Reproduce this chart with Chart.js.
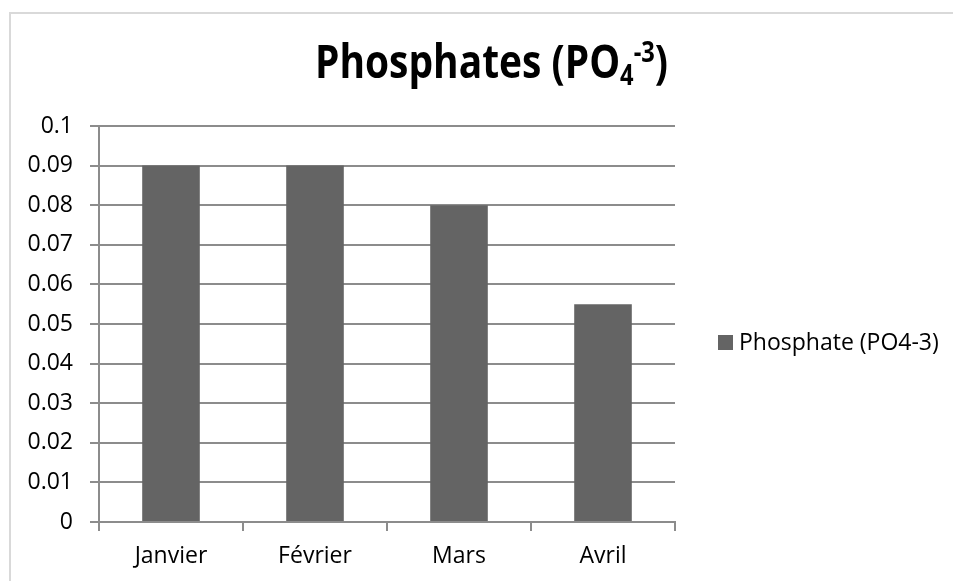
<!DOCTYPE html>
<html>
<head>
<meta charset="utf-8">
<script src="https://cdn.jsdelivr.net/npm/chart.js@4"></script>
<style>
  body { margin: 0; background: #fff; }
  #wrap { position: relative; width: 953px; height: 581px; overflow: hidden; }
  #frame { position: absolute; left: 9px; top: 12px; width: 1000px; height: 620px; border: 2px solid #d9d9d9; box-sizing: border-box; }
  canvas { position: absolute; left: 0; top: 0; }
</style>
</head>
<body>
<div id="wrap">
  <div id="frame"></div>
  <canvas id="phosphate-chart" width="953" height="581"></canvas>
</div>
<script>
// Values
const categories = ['Janvier', 'Février', 'Mars', 'Avril'];
const phosphateValues = [0.09, 0.09, 0.08, 0.055];
const yTickLabels = ['0', '0.01', '0.02', '0.03', '0.04', '0.05', '0.06', '0.07', '0.08', '0.09', '0.1'];
const seriesLabel = 'Phosphate (PO4-3)';

const barColor = '#646464';
const lineColor = '#8c8c8c';
const fontFamily = '"Open Sans", "Noto Sans", sans-serif';

// Title with subscript 4 and superscript -3
const titlePlugin = {
    id: 'chemTitle',
    afterDraw(chart) {
        const ctx = chart.ctx;
        const parts = [
            { text: 'Phosphates (PO', size: 46, dy: 0 },
            { text: '4', size: 28, dy: 7 },
            { text: '-3', size: 28, dy: -16 },
            { text: ')', size: 46, dy: 0 }
        ];
        ctx.save();
        let total = 0;
        const widths = parts.map(p => {
            ctx.font = 'bold ' + p.size + 'px ' + fontFamily;
            const w = ctx.measureText(p.text).width;
            total += w;
            return w;
        });
        const left = 315, right = 668;
        ctx.translate(left, 78);
        ctx.scale((right - left) / total, 1);
        ctx.fillStyle = '#000';
        ctx.textBaseline = 'alphabetic';
        ctx.textAlign = 'left';
        let x = 0;
        parts.forEach((p, i) => {
            ctx.font = 'bold ' + p.size + 'px ' + fontFamily;
            ctx.fillText(p.text, x, p.dy);
            x += widths[i];
        });
        ctx.restore();
    }
};

// Legend on the right
const legendPlugin = {
    id: 'sideLegend',
    afterDraw(chart) {
        const ctx = chart.ctx;
        ctx.save();
        ctx.fillStyle = barColor;
        ctx.fillRect(718, 335, 15, 15);
        ctx.fillStyle = '#000';
        ctx.font = '23px ' + fontFamily;
        ctx.textBaseline = 'middle';
        ctx.textAlign = 'left';
        ctx.fillText(chart.data.datasets[0].label, 739, 343);
        ctx.restore();
    }
};

const canvas = document.getElementById('phosphate-chart');

const chart = new Chart(canvas, {
    type: 'bar',
    data: {
        labels: categories,
        datasets: [{
            label: seriesLabel,
            data: phosphateValues,
            backgroundColor: barColor,
            borderWidth: 0,
            barPercentage: 0.4,
            categoryPercentage: 1.0
        }]
    },
    options: {
        responsive: false,
        animation: false,
        layout: {
            padding: { left: 0, top: 126, right: 278, bottom: 0 }
        },
        plugins: {
            legend: { display: false },
            title: { display: false },
            tooltip: { enabled: false }
        },
        scales: {
            x: {
                afterFit(scale) { scale.height = 59; },
                grid: {
                    offset: true,
                    drawOnChartArea: false,
                    drawTicks: true,
                    tickLength: 9,
                    color: lineColor,
                    lineWidth: 2
                },
                border: { color: lineColor, width: 2 },
                ticks: {
                    color: '#000',
                    font: { family: fontFamily, size: 23 },
                    padding: 12
                }
            },
            y: {
                min: 0,
                max: 0.1,
                afterFit(scale) { scale.width = 99; },
                afterBuildTicks(scale) {
                    scale.ticks = yTickLabels.map((t, i) => ({ value: i * 0.01 }));
                },
                grid: {
                    drawTicks: true,
                    tickLength: 9,
                    color: lineColor,
                    lineWidth: 2
                },
                border: { color: lineColor, width: 2 },
                ticks: {
                    color: '#000',
                    font: { family: fontFamily, size: 23 },
                    padding: 17,
                    callback: (value, index) => yTickLabels[index]
                }
            }
        }
    },
    plugins: [titlePlugin, legendPlugin]
});
</script>
</body>
</html>
